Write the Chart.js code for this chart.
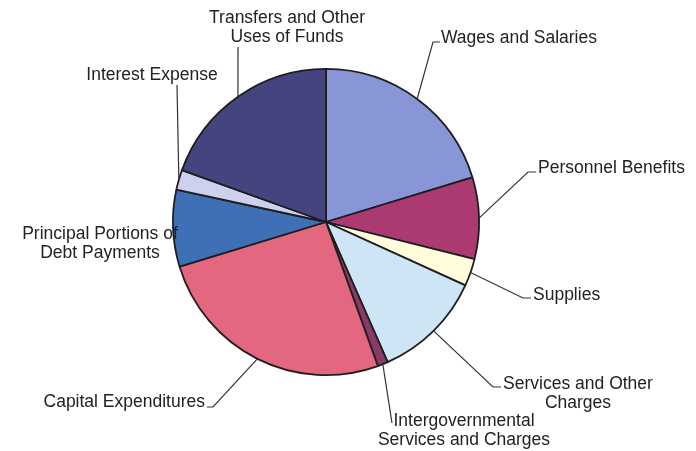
<!DOCTYPE html>
<html>
<head>
<meta charset="utf-8">
<script src="https://cdn.jsdelivr.net/npm/chart.js@4/dist/chart.umd.min.js"></script>
<style>
  html, body { margin: 0; padding: 0; background: #fff; }
  #wrap { width: 696px; height: 451px; }
</style>
</head>
<body>
<div id="wrap"><canvas id="chart"></canvas></div>
<script>
// spending by category, percent of total
const categories = [
  "Wages and Salaries",
  "Personnel Benefits",
  "Supplies",
  "Services and Other Charges",
  "Intergovernmental Services and Charges",
  "Capital Expenditures",
  "Principal Portions of Debt Payments",
  "Interest Expense",
  "Transfers and Other Uses of Funds",
]
const shares = [20.3, 8.6, 2.9, 11.6, 1.1, 25.8, 8.1, 2.1, 19.5]
const sliceColors = [
  "#8895d7", "#ac3a72", "#fffddc", "#cee5f5", "#8a3a66",
  "#e3677f", "#3f6fb4", "#cdd0ee", "#44447f",
]

// label text + where it sits; leader goes from the slice edge through these points
const labelLayout = [
  { lines: ["Wages and Salaries"], x: 441, y: 43, align: "left", leader: [[433, 42], [440, 42]] },
  { lines: ["Personnel Benefits"], x: 538, y: 173, align: "left", leader: [[528, 172], [536, 172]] },
  { lines: ["Supplies"], x: 533, y: 300, align: "left", leader: [[523, 298], [531, 298]] },
  { lines: ["Services and Other", "Charges"], x: 578, y: 389, align: "center", leader: [[493, 387], [501, 387]] },
  { lines: ["Intergovernmental", "Services and Charges"], x: 464, y: 426, align: "center", leader: [[392, 423]] },
  { lines: ["Capital Expenditures"], x: 205, y: 407, align: "right", leader: [[213, 407], [207, 407]] },
  { lines: ["Principal Portions of", "Debt Payments"], x: 100, y: 239, align: "center", leader: null },
  { lines: ["Interest Expense"], x: 152, y: 80, align: "center", leader: [[177, 85]] },
  { lines: ["Transfers and Other", "Uses of Funds"], x: 287, y: 23, align: "center", leader: [[238, 47]] },
]

const FONT = "17.5px 'Liberation Sans', Arial, sans-serif"
const LINE_GAP = 19

const sliceLabels = {
  id: "sliceLabels",
  afterDatasetsDraw(chart) {
    const ctx = chart.ctx
    const arcs = chart.getDatasetMeta(0).data
    ctx.save()
    ctx.strokeStyle = "#333"
    ctx.lineWidth = 1.2
    ctx.fillStyle = "#222"
    ctx.font = FONT
    ctx.textBaseline = "alphabetic"
    arcs.forEach((arc, i) => {
      const lab = labelLayout[i]
      if (!lab) return
      const { x, y, startAngle, endAngle, outerRadius } = arc.getProps(
        ["x", "y", "startAngle", "endAngle", "outerRadius"], true)
      const mid = (startAngle + endAngle) / 2
      if (lab.leader) {
        ctx.beginPath()
        ctx.moveTo(x + Math.cos(mid) * outerRadius, y + Math.sin(mid) * outerRadius)
        lab.leader.forEach(p => ctx.lineTo(p[0], p[1]))
        ctx.stroke()
      }
      ctx.textAlign = lab.align
      lab.lines.forEach((t, k) => ctx.fillText(t, lab.x, lab.y + k * LINE_GAP))
    })
    ctx.restore()
  },
}

new Chart(document.getElementById("chart"), {
  type: "pie",
  data: {
    labels: categories,
    datasets: [{
      data: shares,
      backgroundColor: sliceColors,
      borderColor: "#1e1e1e",
      borderWidth: 1.8,
    }],
  },
  options: {
    responsive: true,
    maintainAspectRatio: false,
    animation: false,
    layout: { padding: { left: 172, right: 216, top: 68, bottom: 75 } },
    plugins: {
      legend: { display: false },
      tooltip: { enabled: false },
    },
  },
  plugins: [sliceLabels],
})
</script>
</body>
</html>
